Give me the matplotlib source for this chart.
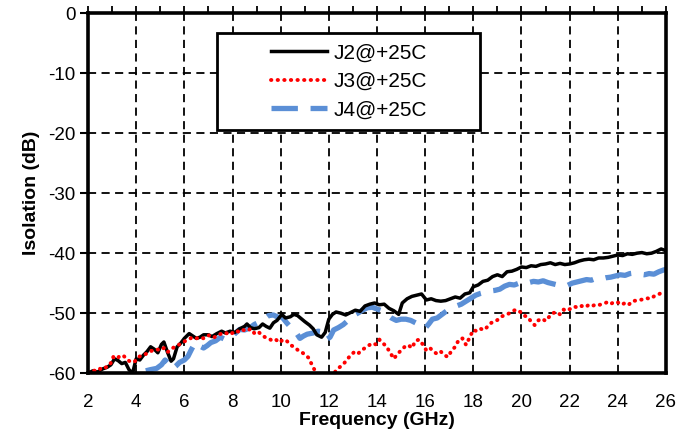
import numpy as np
import matplotlib.pyplot as plt
from matplotlib.patches import Rectangle

plt.rcParams['font.family'] = ['Liberation Sans', 'DejaVu Sans']
plt.rcParams['axes.unicode_minus'] = False

# J2@+25C (preto, linha continua)
j2_freq = [2.0, 2.2, 2.4, 2.6, 2.8, 2.95, 3.1, 3.25, 3.4, 3.55, 3.7, 3.85, 4.0, 4.15,
           4.3, 4.45, 4.6, 4.75, 4.9, 5.05, 5.15, 5.3, 5.45, 5.55, 5.7, 5.85, 6.0, 6.2,
           6.35, 6.5, 6.65, 6.8, 7.0, 7.15, 7.35, 7.55, 7.7, 7.9, 8.1, 8.3, 8.5, 8.6,
           8.75, 8.9, 9.1, 9.25, 9.4, 9.55, 9.7, 9.85, 10.05, 10.2, 10.4, 10.55, 10.7,
           10.85, 11.0, 11.2, 11.35, 11.5, 11.7, 11.85, 12.0, 12.15, 12.3, 12.5, 12.7,
           12.9, 13.1, 13.3, 13.5, 13.7, 13.9, 14.1, 14.3, 14.5, 14.7, 14.9, 15.05,
           15.25, 15.45, 15.65, 15.85, 16.05, 16.25, 16.45, 16.65, 16.85, 17.05, 17.25,
           17.45, 17.65, 17.85, 18.0, 18.2, 18.4, 18.6, 18.8, 19.0, 19.2, 19.4, 19.6,
           19.8, 20.0, 20.2, 20.4, 20.6, 20.8, 21.0, 21.2, 21.4, 21.6, 21.8, 22.0,
           22.2, 22.4, 22.6, 22.8, 23.0, 23.2, 23.4, 23.6, 23.8, 24.0, 24.2, 24.4,
           24.6, 24.8, 25.0, 25.2, 25.4, 25.6, 25.8, 26.0]
j2_db = [-60.0, -59.6, -59.8, -59.3, -59.0, -58.6, -57.6, -57.9, -58.4, -58.2, -59.4,
         -60.0, -57.6, -57.8, -57.0, -56.4, -55.6, -56.0, -56.6, -55.2, -54.8, -56.5,
         -58.0, -57.6, -55.6, -55.0, -54.2, -53.4, -53.8, -54.2, -54.0, -53.6, -53.6,
         -53.9, -53.4, -53.0, -53.3, -53.0, -53.2, -52.6, -52.2, -51.8, -52.4, -52.6,
         -52.4, -51.8, -52.2, -52.5, -51.6, -51.2, -50.2, -50.8, -50.6, -50.2, -50.4,
         -50.9, -51.4, -52.0, -52.6, -53.6, -54.0, -53.2, -51.0, -50.2, -49.8, -50.0,
         -50.3, -49.9, -49.5, -49.7, -48.8, -48.5, -48.3, -48.6, -48.5, -49.2, -49.6,
         -50.2, -48.3, -47.6, -47.2, -47.0, -46.8, -47.8, -47.6, -47.9, -48.0, -47.9,
         -47.6, -47.3, -47.5, -46.8, -46.6, -45.6, -45.3, -44.7, -44.5, -43.9, -43.6,
         -43.9, -43.1, -43.0, -42.7, -42.3, -42.4, -42.1, -42.2, -41.9, -41.8, -41.6,
         -41.9, -41.7, -41.9, -41.8, -41.6, -41.3, -41.1, -41.0, -41.1, -40.8, -40.8,
         -40.7, -40.5, -40.3, -40.4, -40.1, -40.2, -40.0, -39.9, -40.1, -40.0, -39.7,
         -39.3, -39.6]

# J3@+25C (vermelho, pontilhado)
j3_freq = [2.0, 2.15, 2.3, 2.45, 2.6, 2.75, 2.9, 3.05, 3.2, 3.35, 3.5, 3.65, 3.8, 3.95,
           4.1, 4.25, 4.4, 4.55, 4.7, 4.85, 5.0, 5.15, 5.3, 5.45, 5.6, 5.75, 5.9, 6.05,
           6.2, 6.35, 6.5, 6.65, 6.8, 6.95, 7.1, 7.25, 7.4, 7.55, 7.7, 7.85, 8.0, 8.15,
           8.3, 8.45, 8.6, 8.75, 8.9, 9.05, 9.2, 9.35, 9.5, 9.65, 9.8, 9.95, 10.1,
           10.25, 10.4, 10.55, 10.7, 10.85, 11.0, 11.15, 11.25, 11.35, 11.45, 11.6,
           11.8, 12.0, 12.15, 12.3, 12.45, 12.6, 12.75, 12.9, 13.05, 13.2, 13.35, 13.5,
           13.65, 13.8, 13.95, 14.1, 14.25, 14.4, 14.55, 14.7, 14.85, 15.0, 15.15, 15.3,
           15.45, 15.6, 15.75, 15.9, 16.05, 16.2, 16.35, 16.5, 16.65, 16.8, 16.95, 17.1,
           17.25, 17.4, 17.55, 17.7, 17.85, 18.0, 18.15, 18.3, 18.45, 18.6, 18.75, 18.9,
           19.05, 19.2, 19.35, 19.5, 19.65, 19.8, 19.95, 20.1, 20.25, 20.4, 20.55, 20.7,
           20.85, 21.0, 21.15, 21.3, 21.45, 21.6, 21.75, 21.9, 22.05, 22.2, 22.35, 22.5,
           22.65, 22.8, 22.95, 23.1, 23.25, 23.4, 23.55, 23.7, 23.85, 24.0, 24.15, 24.3,
           24.45, 24.6, 24.75, 24.9, 25.05, 25.2, 25.35, 25.5, 25.65, 25.8, 25.95]
j3_db = [-59.8, -59.5, -59.6, -59.2, -59.4, -59.0, -58.7, -57.3, -57.6, -57.0, -57.2,
         -57.8, -58.2, -58.0, -57.3, -57.0, -56.8, -56.4, -56.2, -56.0, -56.2, -55.8,
         -56.5, -56.0, -55.6, -55.3, -55.0, -54.6, -54.3, -54.0, -54.2, -54.0, -54.2,
         -53.8, -53.6, -54.0, -53.6, -53.4, -53.2, -53.6, -53.3, -52.9, -53.2, -52.8,
         -53.0, -52.6, -53.3, -53.0, -53.6, -54.0, -54.2, -54.6, -54.4, -54.9, -54.4,
         -54.6, -55.3, -55.6, -56.1, -56.4, -56.9, -57.4, -58.2, -59.0, -59.8, -61.0,
         -61.5, -61.2, -60.6, -59.5, -59.0, -58.5, -57.8, -57.0, -56.5, -56.8, -56.2,
         -55.8, -55.4, -55.0, -55.2, -54.4, -55.0, -55.6, -56.6, -57.6, -56.8, -56.2,
         -55.6, -55.3, -55.8, -54.6, -54.4, -55.2, -56.2, -55.8, -56.4, -56.8, -56.4,
         -57.0, -57.3, -56.2, -55.6, -54.4, -54.2, -55.3, -54.0, -52.8, -53.0, -52.6,
         -52.8, -52.2, -51.6, -51.4, -51.0, -50.5, -50.3, -50.0, -49.6, -49.4, -49.8,
         -50.4, -50.6, -51.4, -52.0, -51.2, -50.9, -51.3, -50.6, -50.0, -49.8, -50.2,
         -49.4, -49.6, -49.2, -48.9, -49.1, -48.8, -49.0, -48.6, -48.8, -48.5, -48.6,
         -48.4, -48.2, -48.5, -48.1, -48.2, -48.6, -48.3, -48.6, -48.0, -47.9, -47.8,
         -47.7, -47.5, -47.6, -47.2, -47.0, -46.6, -46.3]

# J4@+25C (azul, tracejado)
j4_freq = [4.4, 4.6, 4.85, 5.05, 5.2, 5.35, 5.5, 5.65, 5.8, 6.0, 6.15, 6.3, 6.45, 6.6,
           6.8, 6.95, 7.1, 7.3, 7.5, 7.7, 7.9, 8.1, 8.3, 8.5, 8.7, 8.9, 9.1, 9.3, 9.5,
           9.7, 9.9, 10.05, 10.25, 10.45, 10.6, 10.8, 10.95, 11.1, 11.35, 11.55, 11.75,
           11.9, 12.05, 12.2, 12.4, 12.6, 12.8, 13.0, 13.2, 13.4, 13.6, 13.8, 14.0,
           14.2, 14.4, 14.6, 14.8, 15.0, 15.2, 15.4, 15.6, 15.8, 16.0, 16.15, 16.3,
           16.5, 16.7, 16.9, 17.1, 17.3, 17.5, 17.7, 17.9, 18.1, 18.3, 18.5, 18.7,
           18.9, 19.1, 19.3, 19.5, 19.7, 19.9, 20.1, 20.3, 20.5, 20.7, 20.9, 21.1,
           21.3, 21.5, 21.7, 21.9, 22.1, 22.3, 22.5, 22.7, 22.9, 23.1, 23.3, 23.5,
           23.7, 23.9, 24.1, 24.3, 24.5, 24.7, 24.9, 25.1, 25.3, 25.5, 25.7, 25.9, 26.0]
j4_db = [-59.6, -59.4, -59.2, -58.6, -57.8, -58.4, -59.3, -58.8, -58.2, -57.8, -57.2,
         -56.0, -54.9, -55.4, -55.8, -55.4, -54.9, -54.6, -54.0, -54.4, -54.3, -53.4,
         -52.7, -52.8, -52.5, -51.9, -51.5, -51.0, -50.4, -50.3, -50.7, -50.6, -51.6,
         -52.5, -53.0, -54.2, -53.8, -53.5, -53.3, -53.0, -53.1, -54.4, -54.0, -52.8,
         -52.4, -51.9, -51.2, -50.4, -50.0, -49.5, -49.1, -49.0, -49.3, -49.6, -50.2,
         -50.8, -51.2, -51.0, -51.0, -51.2, -51.6, -52.2, -52.5, -51.8, -51.0, -50.8,
         -50.2, -49.6, -49.2, -48.8, -48.5, -48.0, -47.5, -47.0, -46.7, -46.5, -46.3,
         -46.2, -46.0, -45.5, -45.2, -45.3, -45.0, -45.2, -44.9, -44.7, -44.8, -44.6,
         -44.9, -45.1, -45.3, -45.2, -45.4, -45.0, -44.8, -44.6, -44.4, -44.5, -44.2,
         -44.3, -44.1, -44.0, -43.8, -43.6, -43.7, -43.4, -43.3, -43.5, -43.6, -43.4,
         -43.5, -43.1, -42.8, -42.7]

x_ticks = np.arange(2, 27, 2)
y_ticks = np.arange(-60, 1, 10)

fig = plt.figure(figsize=(6.93, 4.37), dpi=100)
ax = fig.add_axes([0.127, 0.146, 0.834, 0.824])

ax.plot(j2_freq, j2_db, color='black', lw=2.5, label='J2@+25C', zorder=3)
ax.plot(j3_freq, j3_db, color='#ff0000', lw=2.8, linestyle=(0, (0.1, 1.6)),
        dash_capstyle='round', label='J3@+25C', zorder=3)
ax.plot(j4_freq, j4_db, color='#5b8fd6', lw=3.8, linestyle=(0, (5, 2.4)),
        label='J4@+25C', zorder=2)

ax.set_xlim(2, 26)
ax.set_ylim(-60, 0)
ax.set_xticks(x_ticks)
ax.set_yticks(y_ticks)
ax.set_xticks(np.arange(2, 27, 1), minor=True)

# grade tracejada
ax.grid(True, which='major', color='black', lw=1.3, linestyle=(0, (4.5, 3)))

for s in ax.spines.values():
    s.set_linewidth(2.6)
    s.set_zorder(6)

ax.tick_params(axis='y', direction='out', length=6, width=1.5, labelsize=13.5, pad=3)
ax.tick_params(axis='x', which='both', bottom=False, top=True, direction='out',
               length=5, width=1.3, labelsize=13.5, pad=10)

ax.set_xlabel('Frequency (GHz)', fontsize=14, fontweight='bold', labelpad=1)
ax.set_ylabel('Isolation (dB)', fontsize=14, fontweight='bold', labelpad=6)

# caixa da legenda
ax.add_patch(Rectangle((0.223, 0.675), 0.455, 0.269, transform=ax.transAxes,
                       facecolor='white', edgecolor='black', lw=2, zorder=4))
ax.legend(loc='center', bbox_to_anchor=(0.451, 0.81), frameon=False, fontsize=15,
          handlelength=2.7, handletextpad=0.3, labelspacing=0.45).set_zorder(5)

plt.savefig('out.png', format='png', dpi=100)
